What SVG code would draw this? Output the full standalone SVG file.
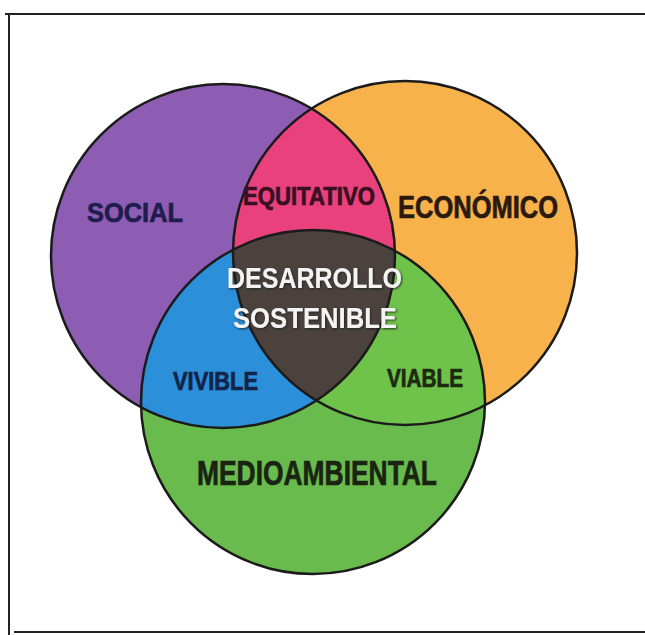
<svg xmlns="http://www.w3.org/2000/svg" width="645" height="635" viewBox="0 0 645 635">
<defs>
<clipPath id="cP"><circle cx="223" cy="256" r="172"/></clipPath>
<clipPath id="cO"><circle cx="405" cy="253" r="172"/></clipPath>
<clipPath id="cG"><circle cx="313" cy="402" r="172"/></clipPath>
<filter id="sh" x="-10%" y="-30%" width="120%" height="160%">
<feDropShadow dx="1" dy="1" stdDeviation="0.8" flood-color="#1a1a1a" flood-opacity="0.9"/>
</filter>
</defs>
<style>
.lbl{font-family:"Liberation Sans","DejaVu Sans",Arial,sans-serif;font-weight:bold;stroke-width:0.7;}
.outline{fill:none;stroke:#1b1b1b;stroke-width:2.5;}
.frame{stroke:#222;stroke-width:2;fill:none;}
</style>
<rect width="645" height="635" fill="#ffffff"/>
<g id="frame">
<line class="frame" x1="5" y1="14" x2="645" y2="14"/>
<line class="frame" x1="9" y1="14" x2="9" y2="635"/>
<line class="frame" x1="14" y1="632" x2="645" y2="632"/>
</g>
<g id="social">
<circle cx="223" cy="256" r="172" fill="#8d5db3"/>
</g>
<g id="economico">
<circle cx="405" cy="253" r="172" fill="#f7b24c"/>
</g>
<g id="medioambiental">
<circle cx="313" cy="402" r="172" fill="#68bb4c"/>
</g>
<g id="equitativo">
<g clip-path="url(#cP)"><circle cx="405" cy="253" r="172" fill="#e8417c"/></g>
</g>
<g id="vivible">
<g clip-path="url(#cP)"><circle cx="313" cy="402" r="172" fill="#2b8fd9"/></g>
</g>
<g id="viable">
<g clip-path="url(#cO)"><circle cx="313" cy="402" r="172" fill="#6fc24a"/></g>
</g>
<g id="desarrollo-sostenible">
<g clip-path="url(#cP)"><g clip-path="url(#cO)"><circle cx="313" cy="402" r="172" fill="#4b423e"/></g></g>
</g>
<g id="outlines">
<circle class="outline" cx="223" cy="256" r="172"/>
<circle class="outline" cx="405" cy="253" r="172"/>
<circle class="outline" cx="313" cy="402" r="172"/>
</g>
<g id="connectors"></g>
<g id="labels">
<text class="lbl" x="87" y="222" font-size="28" fill="#1f1d4e" stroke="#1f1d4e" textLength="96" lengthAdjust="spacingAndGlyphs">SOCIAL</text>
<text class="lbl" x="243" y="205" font-size="25" fill="#3a0f22" stroke="#3a0f22" textLength="132" lengthAdjust="spacingAndGlyphs">EQUITATIVO</text>
<text class="lbl" x="398" y="218" font-size="31" fill="#2a1a0e" stroke="#2a1a0e" textLength="160" lengthAdjust="spacingAndGlyphs">ECONÓMICO</text>
<text class="lbl" x="227" y="288" font-size="29" fill="#f4f4f4" filter="url(#sh)" textLength="175" lengthAdjust="spacingAndGlyphs">DESARROLLO</text>
<text class="lbl" x="233" y="328" font-size="29" fill="#f4f4f4" filter="url(#sh)" textLength="164" lengthAdjust="spacingAndGlyphs">SOSTENIBLE</text>
<text class="lbl" x="173" y="390" font-size="25" fill="#12244a" stroke="#12244a" textLength="85" lengthAdjust="spacingAndGlyphs">VIVIBLE</text>
<text class="lbl" x="387" y="387" font-size="25" fill="#1c2a10" stroke="#1c2a10" textLength="76" lengthAdjust="spacingAndGlyphs">VIABLE</text>
<text class="lbl" x="197" y="485" font-size="35" fill="#1a2412" stroke="#1a2412" textLength="240" lengthAdjust="spacingAndGlyphs">MEDIOAMBIENTAL</text>
</g>
</svg>
